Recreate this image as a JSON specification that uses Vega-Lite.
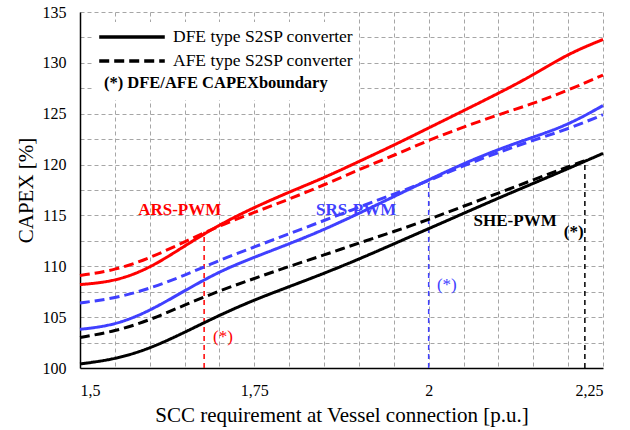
{
  "$schema": "https://vega.github.io/schema/vega-lite/v6.json",
  "width": 523,
  "height": 356,
  "autosize": "none",
  "padding": {"left": 80, "top": 12, "right": 27, "bottom": 62},
  "background": "white",
  "config": {
    "view": {"stroke": null},
    "font": "Liberation Serif",
    "axis": {
      "labelFont": "Liberation Serif",
      "titleFont": "Liberation Serif",
      "labelColor": "black",
      "titleColor": "black",
      "titleFontWeight": "normal",
      "labelFontSize": 16,
      "titleFontSize": 21,
      "ticks": false,
      "domainColor": "black",
      "domainWidth": 1.5,
      "gridColor": "#A6A6A6",
      "gridDash": [4, 3],
      "gridWidth": 1,
      "labelOverlap": false,
      "labelBound": false
    }
  },
  "datasets": {
    "curves": [
      {"x": 1.5, "y": 108.2, "mod": "ARS", "type": "DFE type S2SP converter"},
      {"x": 1.55, "y": 108.5, "mod": "ARS", "type": "DFE type S2SP converter"},
      {"x": 1.6, "y": 109.8, "mod": "ARS", "type": "DFE type S2SP converter"},
      {"x": 1.65, "y": 112.0, "mod": "ARS", "type": "DFE type S2SP converter"},
      {"x": 1.7, "y": 114.1, "mod": "ARS", "type": "DFE type S2SP converter"},
      {"x": 1.75, "y": 115.8, "mod": "ARS", "type": "DFE type S2SP converter"},
      {"x": 1.8, "y": 117.3, "mod": "ARS", "type": "DFE type S2SP converter"},
      {"x": 1.85, "y": 118.7, "mod": "ARS", "type": "DFE type S2SP converter"},
      {"x": 1.9, "y": 120.3, "mod": "ARS", "type": "DFE type S2SP converter"},
      {"x": 1.95, "y": 121.9, "mod": "ARS", "type": "DFE type S2SP converter"},
      {"x": 2.0, "y": 123.6, "mod": "ARS", "type": "DFE type S2SP converter"},
      {"x": 2.05, "y": 125.3, "mod": "ARS", "type": "DFE type S2SP converter"},
      {"x": 2.1, "y": 127.0, "mod": "ARS", "type": "DFE type S2SP converter"},
      {"x": 2.15, "y": 128.8, "mod": "ARS", "type": "DFE type S2SP converter"},
      {"x": 2.2, "y": 130.9, "mod": "ARS", "type": "DFE type S2SP converter"},
      {"x": 2.25, "y": 132.3, "mod": "ARS", "type": "DFE type S2SP converter"},

      {"x": 1.5, "y": 109.1, "mod": "ARS", "type": "AFE type S2SP converter"},
      {"x": 1.55, "y": 109.6, "mod": "ARS", "type": "AFE type S2SP converter"},
      {"x": 1.6, "y": 110.8, "mod": "ARS", "type": "AFE type S2SP converter"},
      {"x": 1.65, "y": 112.4, "mod": "ARS", "type": "AFE type S2SP converter"},
      {"x": 1.7, "y": 114.0, "mod": "ARS", "type": "AFE type S2SP converter"},
      {"x": 1.75, "y": 115.3, "mod": "ARS", "type": "AFE type S2SP converter"},
      {"x": 1.8, "y": 116.6, "mod": "ARS", "type": "AFE type S2SP converter"},
      {"x": 1.85, "y": 118.0, "mod": "ARS", "type": "AFE type S2SP converter"},
      {"x": 1.9, "y": 119.5, "mod": "ARS", "type": "AFE type S2SP converter"},
      {"x": 1.95, "y": 120.9, "mod": "ARS", "type": "AFE type S2SP converter"},
      {"x": 2.0, "y": 122.4, "mod": "ARS", "type": "AFE type S2SP converter"},
      {"x": 2.05, "y": 123.7, "mod": "ARS", "type": "AFE type S2SP converter"},
      {"x": 2.1, "y": 124.9, "mod": "ARS", "type": "AFE type S2SP converter"},
      {"x": 2.15, "y": 126.0, "mod": "ARS", "type": "AFE type S2SP converter"},
      {"x": 2.2, "y": 127.3, "mod": "ARS", "type": "AFE type S2SP converter"},
      {"x": 2.25, "y": 128.8, "mod": "ARS", "type": "AFE type S2SP converter"},

      {"x": 1.5, "y": 103.8, "mod": "SRS", "type": "DFE type S2SP converter"},
      {"x": 1.55, "y": 104.2, "mod": "SRS", "type": "DFE type S2SP converter"},
      {"x": 1.6, "y": 105.6, "mod": "SRS", "type": "DFE type S2SP converter"},
      {"x": 1.65, "y": 107.6, "mod": "SRS", "type": "DFE type S2SP converter"},
      {"x": 1.7, "y": 109.5, "mod": "SRS", "type": "DFE type S2SP converter"},
      {"x": 1.75, "y": 110.9, "mod": "SRS", "type": "DFE type S2SP converter"},
      {"x": 1.8, "y": 112.2, "mod": "SRS", "type": "DFE type S2SP converter"},
      {"x": 1.85, "y": 113.6, "mod": "SRS", "type": "DFE type S2SP converter"},
      {"x": 1.9, "y": 115.2, "mod": "SRS", "type": "DFE type S2SP converter"},
      {"x": 1.95, "y": 116.85, "mod": "SRS", "type": "DFE type S2SP converter"},
      {"x": 2.0, "y": 118.5, "mod": "SRS", "type": "DFE type S2SP converter"},
      {"x": 2.05, "y": 120.1, "mod": "SRS", "type": "DFE type S2SP converter"},
      {"x": 2.1, "y": 121.5, "mod": "SRS", "type": "DFE type S2SP converter"},
      {"x": 2.15, "y": 122.7, "mod": "SRS", "type": "DFE type S2SP converter"},
      {"x": 2.2, "y": 123.9, "mod": "SRS", "type": "DFE type S2SP converter"},
      {"x": 2.25, "y": 125.8, "mod": "SRS", "type": "DFE type S2SP converter"},

      {"x": 1.5, "y": 106.4, "mod": "SRS", "type": "AFE type S2SP converter"},
      {"x": 1.55, "y": 106.85, "mod": "SRS", "type": "AFE type S2SP converter"},
      {"x": 1.6, "y": 107.8, "mod": "SRS", "type": "AFE type S2SP converter"},
      {"x": 1.65, "y": 109.1, "mod": "SRS", "type": "AFE type S2SP converter"},
      {"x": 1.7, "y": 110.6, "mod": "SRS", "type": "AFE type S2SP converter"},
      {"x": 1.75, "y": 111.9, "mod": "SRS", "type": "AFE type S2SP converter"},
      {"x": 1.8, "y": 113.2, "mod": "SRS", "type": "AFE type S2SP converter"},
      {"x": 1.85, "y": 114.5, "mod": "SRS", "type": "AFE type S2SP converter"},
      {"x": 1.9, "y": 115.8, "mod": "SRS", "type": "AFE type S2SP converter"},
      {"x": 1.95, "y": 117.1, "mod": "SRS", "type": "AFE type S2SP converter"},
      {"x": 2.0, "y": 118.4, "mod": "SRS", "type": "AFE type S2SP converter"},
      {"x": 2.05, "y": 119.9, "mod": "SRS", "type": "AFE type S2SP converter"},
      {"x": 2.1, "y": 121.2, "mod": "SRS", "type": "AFE type S2SP converter"},
      {"x": 2.15, "y": 122.4, "mod": "SRS", "type": "AFE type S2SP converter"},
      {"x": 2.2, "y": 123.5, "mod": "SRS", "type": "AFE type S2SP converter"},
      {"x": 2.25, "y": 124.9, "mod": "SRS", "type": "AFE type S2SP converter"},

      {"x": 1.5, "y": 100.4, "mod": "SHE", "type": "DFE type S2SP converter"},
      {"x": 1.55, "y": 100.85, "mod": "SHE", "type": "DFE type S2SP converter"},
      {"x": 1.6, "y": 101.9, "mod": "SHE", "type": "DFE type S2SP converter"},
      {"x": 1.65, "y": 103.5, "mod": "SHE", "type": "DFE type S2SP converter"},
      {"x": 1.7, "y": 105.2, "mod": "SHE", "type": "DFE type S2SP converter"},
      {"x": 1.75, "y": 106.7, "mod": "SHE", "type": "DFE type S2SP converter"},
      {"x": 1.8, "y": 108.0, "mod": "SHE", "type": "DFE type S2SP converter"},
      {"x": 1.85, "y": 109.3, "mod": "SHE", "type": "DFE type S2SP converter"},
      {"x": 1.9, "y": 110.7, "mod": "SHE", "type": "DFE type S2SP converter"},
      {"x": 1.95, "y": 112.2, "mod": "SHE", "type": "DFE type S2SP converter"},
      {"x": 2.0, "y": 113.7, "mod": "SHE", "type": "DFE type S2SP converter"},
      {"x": 2.05, "y": 115.2, "mod": "SHE", "type": "DFE type S2SP converter"},
      {"x": 2.1, "y": 116.7, "mod": "SHE", "type": "DFE type S2SP converter"},
      {"x": 2.15, "y": 118.15, "mod": "SHE", "type": "DFE type S2SP converter"},
      {"x": 2.2, "y": 119.6, "mod": "SHE", "type": "DFE type S2SP converter"},
      {"x": 2.25, "y": 121.1, "mod": "SHE", "type": "DFE type S2SP converter"},

      {"x": 1.5, "y": 103.0, "mod": "SHE", "type": "AFE type S2SP converter"},
      {"x": 1.55, "y": 103.6, "mod": "SHE", "type": "AFE type S2SP converter"},
      {"x": 1.6, "y": 104.7, "mod": "SHE", "type": "AFE type S2SP converter"},
      {"x": 1.65, "y": 106.2, "mod": "SHE", "type": "AFE type S2SP converter"},
      {"x": 1.7, "y": 107.6, "mod": "SHE", "type": "AFE type S2SP converter"},
      {"x": 1.75, "y": 108.8, "mod": "SHE", "type": "AFE type S2SP converter"},
      {"x": 1.8, "y": 110.0, "mod": "SHE", "type": "AFE type S2SP converter"},
      {"x": 1.85, "y": 111.1, "mod": "SHE", "type": "AFE type S2SP converter"},
      {"x": 1.9, "y": 112.3, "mod": "SHE", "type": "AFE type S2SP converter"},
      {"x": 1.95, "y": 113.4, "mod": "SHE", "type": "AFE type S2SP converter"},
      {"x": 2.0, "y": 114.6, "mod": "SHE", "type": "AFE type S2SP converter"},
      {"x": 2.05, "y": 115.9, "mod": "SHE", "type": "AFE type S2SP converter"},
      {"x": 2.1, "y": 117.2, "mod": "SHE", "type": "AFE type S2SP converter"},
      {"x": 2.15, "y": 118.5, "mod": "SHE", "type": "AFE type S2SP converter"},
      {"x": 2.2, "y": 119.8, "mod": "SHE", "type": "AFE type S2SP converter"},
      {"x": 2.225, "y": 120.4, "mod": "SHE", "type": "AFE type S2SP converter"}
    ],
    "bounds": [
      {"x": 1.678, "y": 100, "y2": 113.4, "mod": "ARS"},
      {"x": 2.0, "y": 100, "y2": 118.5, "mod": "SRS"},
      {"x": 2.224, "y": 100, "y2": 120.4, "mod": "SHE"}
    ],
    "labels": [
      {"x": 1.643, "y": 115.5, "text": "ARS-PWM", "mod": "ARS", "w": "bold"},
      {"x": 1.896, "y": 115.5, "text": "SRS-PWM", "mod": "SRS", "w": "bold"},
      {"x": 2.124, "y": 114.5, "text": "SHE-PWM", "mod": "SHE", "w": "bold"},
      {"x": 1.705, "y": 103.0, "text": "(*)", "mod": "ARS", "w": "normal"},
      {"x": 2.026, "y": 108.2, "text": "(*)", "mod": "SRS", "w": "normal"},
      {"x": 2.208, "y": 113.4, "text": "(*)", "mod": "SHE", "w": "bold"}
    ]
  },
  "encoding": {
    "x": {
      "field": "x", "type": "quantitative",
      "scale": {"domain": [1.5, 2.25], "nice": false, "zero": false},
      "axis": {
        "title": "SCC requirement at Vessel connection [p.u.]",
        "values": [1.5, 1.55, 1.6, 1.65, 1.7, 1.75, 1.8, 1.85, 1.9, 1.95, 2.0, 2.05, 2.1, 2.15, 2.2, 2.25],
        "labelExpr": "abs(datum.value*4 - round(datum.value*4)) < 0.001 ? replace(format(datum.value, '~g'), '.', ',') : ''",
        "labelPadding": 14,
        "titlePadding": 6
      }
    },
    "y": {
      "field": "y", "type": "quantitative",
      "scale": {"domain": [100, 135], "nice": false, "zero": false},
      "axis": {
        "title": "CAPEX [%]",
        "values": [100, 102.5, 105, 107.5, 110, 112.5, 115, 117.5, 120, 122.5, 125, 127.5, 130, 132.5, 135],
        "labelExpr": "datum.value % 5 == 0 ? format(datum.value, 'd') : ''",
        "labelPadding": 14,
        "titlePadding": 6
      }
    },
    "color": {
      "field": "mod", "type": "nominal",
      "scale": {"domain": ["ARS", "SRS", "SHE"], "range": ["#FF0000", "#4040FF", "#000000"]},
      "legend": null
    }
  },
  "layer": [
    {
      "data": {"name": "bounds"},
      "mark": {"type": "rule", "strokeDash": [5, 4], "strokeWidth": 1.5},
      "encoding": {"y2": {"field": "y2"}}
    },
    {
      "data": {"name": "curves"},
      "mark": {"type": "line", "interpolate": "basis", "strokeWidth": 3},
      "encoding": {
        "detail": {"field": "mod"},
        "strokeDash": {
          "field": "type", "type": "nominal",
          "scale": {
            "domain": ["DFE type S2SP converter", "AFE type S2SP converter", "(*) DFE/AFE CAPEXboundary"],
            "range": [[1, 0], [10, 5], [1, 0]]
          },
          "legend": {
            "orient": "none",
            "legendX": 13,
            "legendY": 10,
            "title": null,
            "fillColor": "white",
            "padding": 4,
            "symbolType": "stroke",
            "symbolSize": 4300,
            "symbolStrokeWidth": 3.5,
            "symbolStrokeColor": "black",
            "clipHeight": 22,
            "rowPadding": 2,
            "labelFont": "Liberation Serif",
            "labelFontSize": 17.5,
            "labelColor": "black",
            "labelOffset": 6,
            "labelLimit": 400,
            "encode": {
              "symbols": {"update": {"opacity": {"signal": "datum.value == '(*) DFE/AFE CAPEXboundary' ? 0 : 1"}}},
              "labels": {"update": {
                "fontWeight": {"signal": "datum.value == '(*) DFE/AFE CAPEXboundary' ? 'bold' : 'normal'"},
                "fontSize": {"signal": "datum.value == '(*) DFE/AFE CAPEXboundary' ? 16.5 : 17.5"},
                "dx": {"signal": "datum.value == '(*) DFE/AFE CAPEXboundary' ? -69 : 0"},
                "dy": {"signal": "datum.value == '(*) DFE/AFE CAPEXboundary' ? -2 : 0"}
              }}
            }
          }
        }
      }
    },
    {
      "data": {"name": "labels"},
      "transform": [{"filter": "datum.w == 'bold'"}],
      "mark": {"type": "text", "font": "Liberation Serif", "fontSize": 17, "fontWeight": "bold", "align": "center", "baseline": "middle"},
      "encoding": {"text": {"field": "text"}}
    },
    {
      "data": {"name": "labels"},
      "transform": [{"filter": "datum.w == 'normal'"}],
      "mark": {"type": "text", "font": "Liberation Serif", "fontSize": 17, "fontWeight": "normal", "align": "center", "baseline": "middle"},
      "encoding": {"text": {"field": "text"}}
    }
  ]
}
